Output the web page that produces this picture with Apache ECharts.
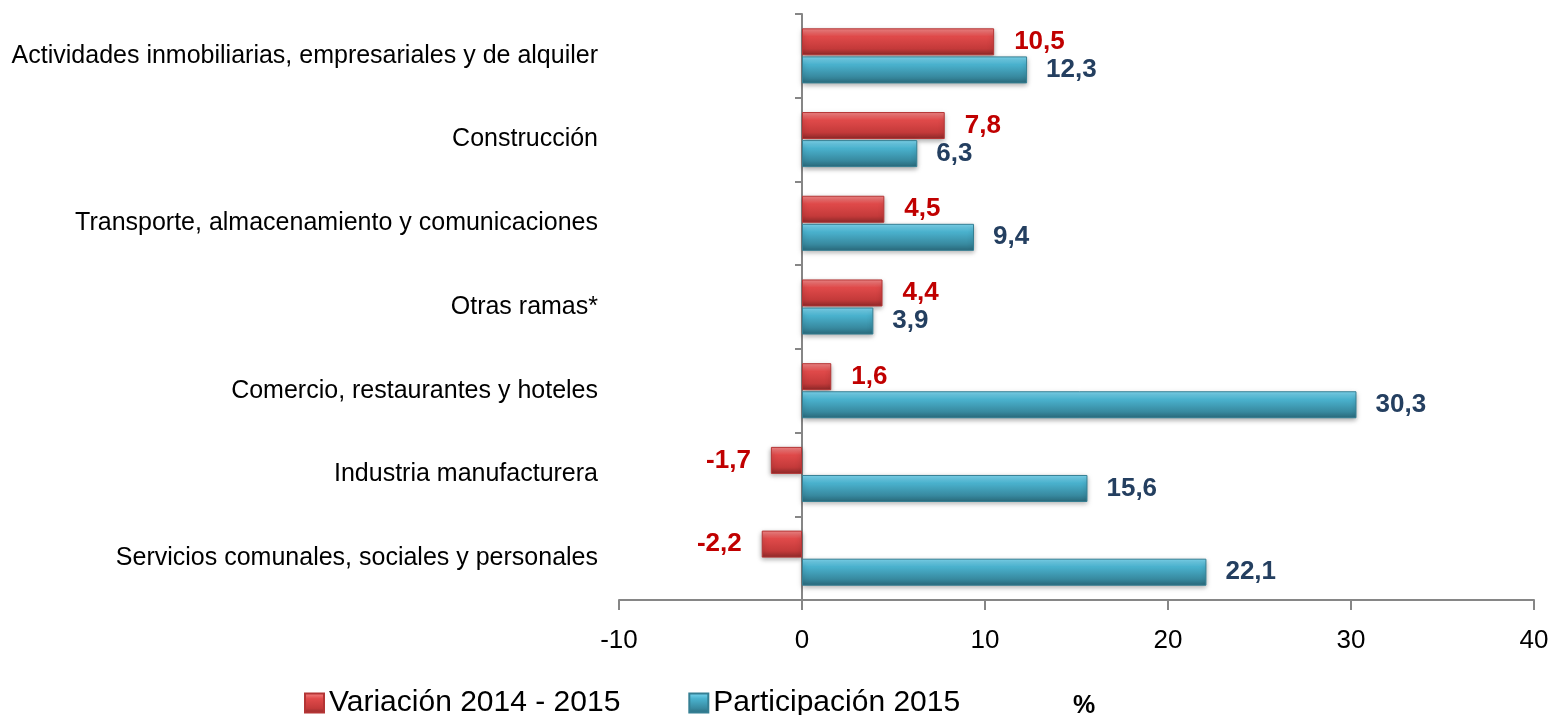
<!DOCTYPE html>
<html>
<head>
<meta charset="utf-8">
<script src="https://cdn.jsdelivr.net/npm/echarts@6/dist/echarts.min.js"></script>
<style>
  html, body { margin: 0; padding: 0; background: #fff; }
  #chart { width: 1555px; height: 715px; }
</style>
</head>
<body>
<div id="chart"></div>
<script>
const categories = [
  'Actividades inmobiliarias, empresariales y de alquiler',
  'Construcción',
  'Transporte, almacenamiento y comunicaciones',
  'Otras ramas*',
  'Comercio, restaurantes y hoteles',
  'Industria manufacturera',
  'Servicios comunales, sociales y personales'
];
const variacion = [10.5, 7.8, 4.5, 4.4, 1.6, -1.7, -2.2];
const participacion = [12.3, 6.3, 9.4, 3.9, 30.3, 15.6, 22.1];
const xTicks = { min: -10, max: 40, interval: 10 };

const fontFamily = '"Liberation Sans", "DejaVu Sans", sans-serif';

const redFill = new echarts.graphic.LinearGradient(0, 0, 0, 1, [
  { offset: 0, color: '#f58a8a' },
  { offset: 0.3, color: '#e04a4a' },
  { offset: 0.75, color: '#c43a3a' },
  { offset: 1, color: '#8e2a2a' }
]);
const blueFill = new echarts.graphic.LinearGradient(0, 0, 0, 1, [
  { offset: 0, color: '#80d9f2' },
  { offset: 0.3, color: '#4ab2ce' },
  { offset: 0.75, color: '#388aa0' },
  { offset: 1, color: '#2a6a7c' }
]);

const fmt = (p) => String(p.value).replace('.', ',');

// negative bars get their label on the left side
function toItems(values) {
  return values.map((v) => ({
    value: v,
    label: { position: v < 0 ? 'left' : 'right' }
  }));
}

const chart = echarts.init(document.getElementById('chart'));

chart.setOption({
  animation: false,
  grid: { left: 619, right: 21, top: 14, bottom: 115, outerBoundsMode: 'none' },
  title: {
    text: '%',
    left: 1068,
    top: 689,
    textStyle: { fontFamily, fontSize: 25, fontWeight: 'bold', color: '#000' }
  },
  legend: {
    left: 299,
    top: 683,
    itemWidth: 19,
    itemHeight: 19,
    itemGap: 68,
    icon: 'rect',
    textStyle: { fontFamily, fontSize: 30, color: '#000' },
    data: ['Variación 2014 - 2015', 'Participación 2015']
  },
  xAxis: {
    type: 'value',
    min: xTicks.min,
    max: xTicks.max,
    interval: xTicks.interval,
    splitLine: { show: false },
    axisLine: { show: true, lineStyle: { color: '#868686', width: 2 } },
    axisTick: { show: true, length: 10, lineStyle: { color: '#868686', width: 2 } },
    axisLabel: { fontFamily, fontSize: 26, color: '#000', margin: 28 }
  },
  yAxis: {
    type: 'category',
    inverse: true,
    data: categories,
    axisLine: { onZero: true, lineStyle: { color: '#868686', width: 2 } },
    axisTick: { show: true, length: 7, lineStyle: { color: '#868686', width: 2 } },
    axisLabel: { fontFamily, fontSize: 25, color: '#000', margin: 21 }
  },
  series: [
    {
      name: 'Variación 2014 - 2015',
      type: 'bar',
      barWidth: 27,
      barGap: '4%',
      data: toItems(variacion),
      itemStyle: {
        color: redFill,
        borderColor: '#b43535',
        borderWidth: 1,
        shadowColor: 'rgba(0,0,0,0.35)',
        shadowBlur: 5,
        shadowOffsetY: 2
      },
      label: {
        show: true,
        formatter: fmt,
        distance: 20,
        fontFamily,
        fontSize: 26,
        fontWeight: 'bold',
        color: '#c00000'
      }
    },
    {
      name: 'Participación 2015',
      type: 'bar',
      barWidth: 27,
      data: toItems(participacion),
      itemStyle: {
        color: blueFill,
        borderColor: '#357f93',
        borderWidth: 1,
        shadowColor: 'rgba(0,0,0,0.35)',
        shadowBlur: 5,
        shadowOffsetY: 2
      },
      label: {
        show: true,
        formatter: fmt,
        distance: 19,
        fontFamily,
        fontSize: 26,
        fontWeight: 'bold',
        color: '#243f60'
      }
    }
  ]
});
</script>
</body>
</html>
